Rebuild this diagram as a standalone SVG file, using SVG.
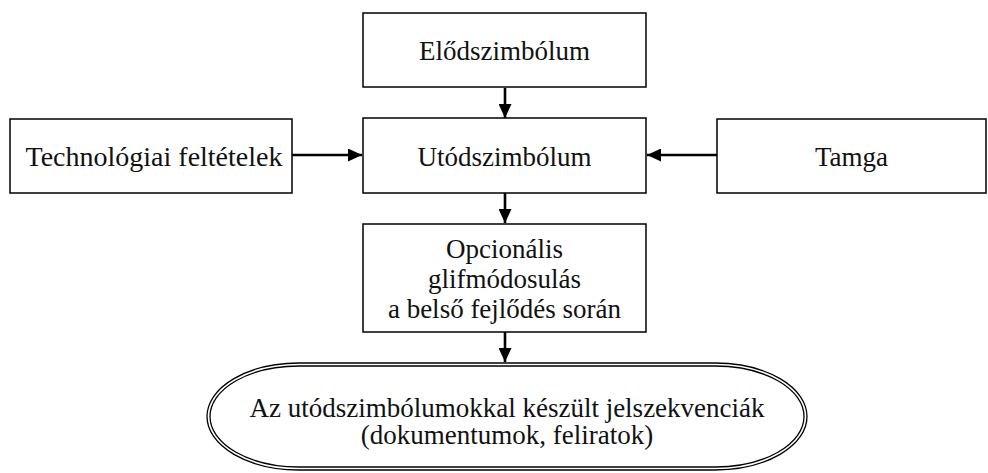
<svg xmlns="http://www.w3.org/2000/svg" width="988" height="473" viewBox="0 0 988 473">
  <defs>
    <marker id="arrow" viewBox="0 0 14 13" refX="14" refY="6.5" markerWidth="14" markerHeight="13" markerUnits="userSpaceOnUse" orient="auto">
      <path d="M0,0 L14,6.5 L0,13 Z" fill="#000"/>
    </marker>
    <style>
      .box { fill: #fff; stroke: #000; stroke-width: 1.5; }
      .lbl { font-family: "Liberation Serif", "Times New Roman", serif; font-size: 27px; fill: #111; text-anchor: middle; }
      .conn { stroke: #000; stroke-width: 2.6; fill: none; marker-end: url(#arrow); }
      .oval { fill: none; stroke: #000; stroke-width: 1.3; }
    </style>
  </defs>
  <rect width="988" height="473" fill="#fff"/>

  <g id="connectors">
    <line class="conn" x1="505" y1="88" x2="505" y2="118"/>
    <line class="conn" x1="292" y1="155" x2="362" y2="155"/>
    <line class="conn" x1="717" y1="155" x2="647" y2="155"/>
    <line class="conn" x1="505" y1="193" x2="505" y2="223"/>
    <line class="conn" x1="505" y1="332" x2="505" y2="362"/>
  </g>

  <g id="predecessor">
    <rect class="box" x="363" y="13" width="283" height="74"/>
    <text class="lbl" x="504.5" y="60">Elődszimbólum</text>
  </g>

  <g id="tech">
    <rect class="box" x="10" y="119" width="282" height="74"/>
    <text class="lbl" x="154" y="166" style="font-size:28px">Technológiai feltételek</text>
  </g>

  <g id="successor">
    <rect class="box" x="363" y="118" width="283" height="75"/>
    <text class="lbl" x="504.5" y="166">Utódszimbólum</text>
  </g>

  <g id="tamga">
    <rect class="box" x="717" y="119" width="269" height="74"/>
    <text class="lbl" x="851.5" y="166">Tamga</text>
  </g>

  <g id="glyph-change">
    <rect class="box" x="363" y="224" width="283" height="108"/>
    <text class="lbl" x="504.5" y="258">Opcionális</text>
    <text class="lbl" x="504.5" y="288">glifmódosulás</text>
    <text class="lbl" x="504.5" y="318">a belső fejlődés során</text>
  </g>

  <g id="sequences">
    <rect class="oval" x="207" y="363" width="600" height="107" rx="92" ry="53.5"/>
    <rect class="oval" x="210" y="366" width="594" height="101" rx="89" ry="50.5"/>
    <text class="lbl" x="507" y="417">Az utódszimbólumokkal készült jelszekvenciák</text>
    <text class="lbl" x="507" y="444">(dokumentumok, feliratok)</text>
  </g>
</svg>
